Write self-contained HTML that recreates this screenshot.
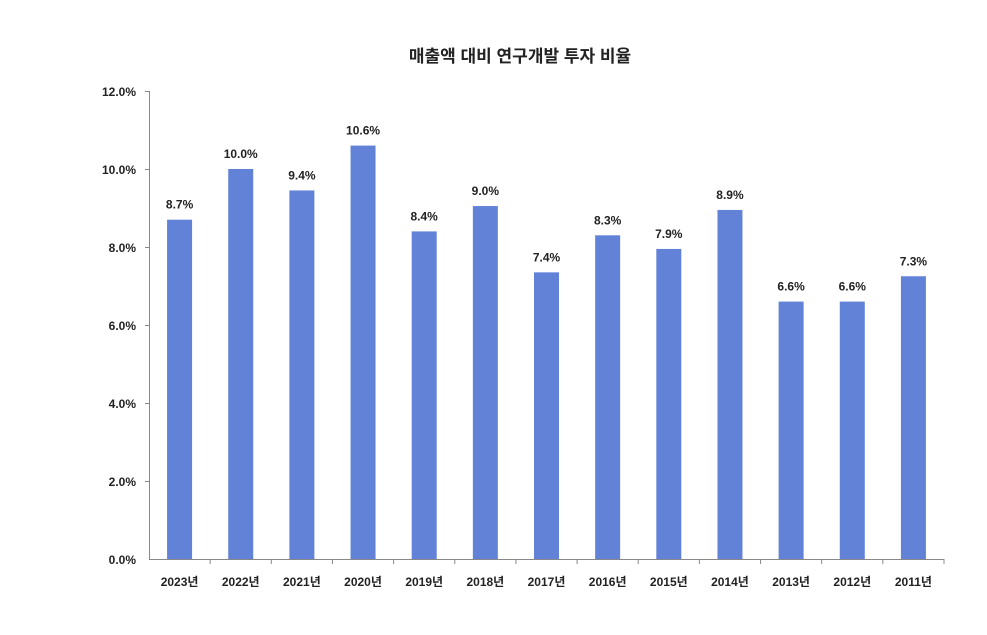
<!DOCTYPE html>
<html><head><meta charset="utf-8"><style>
body{margin:0;background:#fff;width:987px;height:630px;overflow:hidden}
text{font-family:"Liberation Sans","Noto Sans CJK KR",sans-serif;fill:#222}
</style></head><body>
<svg width="987" height="630" viewBox="0 0 987 630" xmlns="http://www.w3.org/2000/svg">
<text x="520" y="62" font-size="17" font-weight="bold" text-anchor="middle">매출액 대비 연구개발 투자 비율</text>
<g stroke="#888" stroke-width="1">
<line x1="149.5" y1="91" x2="149.5" y2="559"/>
<line x1="149" y1="559.5" x2="944" y2="559.5"/>
</g>
<g font-size="12" font-weight="bold" text-anchor="end">
<text x="136" y="96">12.0%</text><text x="136" y="174">10.0%</text><text x="136" y="252">8.0%</text>
<text x="136" y="330">6.0%</text><text x="136" y="408">4.0%</text><text x="136" y="486">2.0%</text><text x="136" y="564">0.0%</text>
</g>
<g stroke="#888"><line x1="145" y1="91.5" x2="149" y2="91.5"/><line x1="145" y1="169.5" x2="149" y2="169.5"/><line x1="145" y1="247.5" x2="149" y2="247.5"/><line x1="145" y1="325.5" x2="149" y2="325.5"/><line x1="145" y1="403.5" x2="149" y2="403.5"/><line x1="145" y1="481.5" x2="149" y2="481.5"/></g>
<g id="bars"></g>
</svg>
<script>
var vals=[8.7,10.0,9.45,10.6,8.4,9.05,7.35,8.3,7.95,8.95,6.6,6.6,7.25];
var labs=["8.7%","10.0%","9.4%","10.6%","8.4%","9.0%","7.4%","8.3%","7.9%","8.9%","6.6%","6.6%","7.3%"];
var g=document.getElementById('bars'),ns="http://www.w3.org/2000/svg",s="";
var w=(944-149)/13;
for(var i=0;i<13;i++){var c=149+w*(i+0.5),y=559-vals[i]*39;
s+='<rect x="'+(c-12.5)+'" y="'+y+'" width="25" height="'+(559-y)+'" fill="#6282d8"/>';
s+='<text x="'+c+'" y="'+(y-11)+'" font-size="12" font-weight="bold" text-anchor="middle">'+labs[i]+'</text>';
s+='<text x="'+c+'" y="586" font-size="12" font-weight="bold" text-anchor="middle">'+(2023-i)+'년</text>';
var tx=149+w*(i+1);s+='<line x1="'+tx+'" y1="559" x2="'+tx+'" y2="564" stroke="#888"/>';}
g.innerHTML=s;
</script>
</body></html>
